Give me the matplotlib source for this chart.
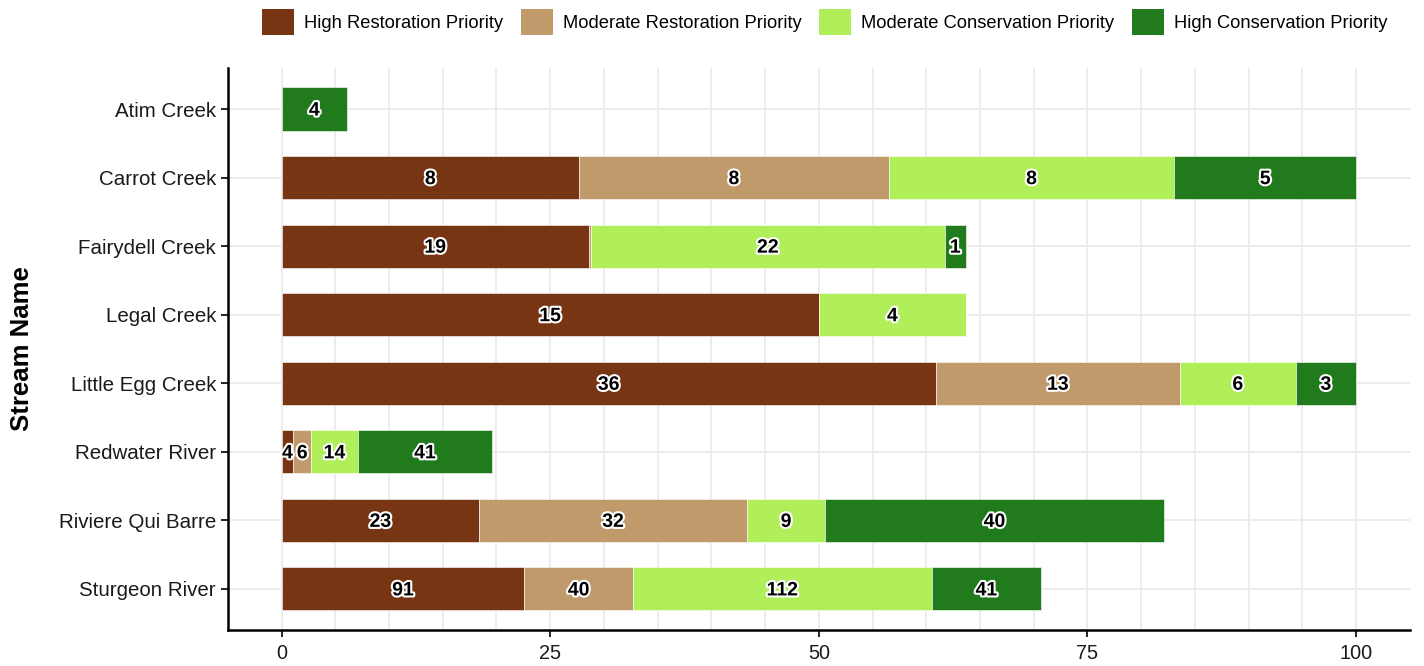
import numpy as np
import matplotlib.pyplot as plt
import matplotlib.patheffects as pe
from matplotlib.patches import Patch

plt.rcParams['font.family'] = ['Liberation Sans', 'DejaVu Sans']

streams = ['Atim Creek', 'Carrot Creek', 'Fairydell Creek', 'Legal Creek',
           'Little Egg Creek', 'Redwater River', 'Riviere Qui Barre', 'Sturgeon River']
priorities = ['High Restoration Priority', 'Moderate Restoration Priority',
              'Moderate Conservation Priority', 'High Conservation Priority']
colors = ['#783513', '#C19A6B', '#B0EF5A', '#217B1D']

# percent of stream length in each class (bar widths)
pct_high_rest = [0, 27.7, 28.6, 50.0, 60.9, 1.1, 18.4, 22.6]
pct_mod_rest = [0, 28.8, 0.2, 0, 22.7, 1.65, 24.9, 10.1]
pct_mod_cons = [0, 26.6, 32.9, 13.7, 10.8, 4.35, 7.3, 27.8]
pct_high_cons = [6.1, 16.9, 2.0, 0, 5.6, 12.5, 31.5, 10.2]

# number of sites in each class (bar labels)
n_high_rest = [None, 8, 19, 15, 36, 4, 23, 91]
n_mod_rest = [None, 8, None, None, 13, 6, 32, 40]
n_mod_cons = [None, 8, 22, 4, 6, 14, 9, 112]
n_high_cons = [4, 5, 1, None, 3, 41, 40, 41]

widths = [pct_high_rest, pct_mod_rest, pct_mod_cons, pct_high_cons]
counts = [n_high_rest, n_mod_rest, n_mod_cons, n_high_cons]

fig = plt.figure(figsize=(14.24, 6.66), dpi=100)
ax = fig.add_axes([0.160, 0.054, 0.830, 0.844])

y = np.arange(len(streams), 0, -1)
left = np.zeros(len(streams))
for w, n, c in zip(widths, counts, colors):
    w = np.array(w, dtype=float)
    ax.barh(y, w, left=left, height=0.63, color=c, edgecolor='white',
            linewidth=0.4, zorder=2)
    for yi, li, wi, ni in zip(y, left, w, n):
        if ni is not None and wi > 0:
            ax.text(li + wi / 2, yi, str(ni), ha='center', va='center_baseline',
                    fontsize=14, fontweight='bold', color='black', zorder=3,
                    path_effects=[pe.withStroke(linewidth=3, foreground='white')])
    left += w

ax.set_xlim(-5, 105)
ax.set_ylim(0.4, len(streams) + 0.6)
ax.set_xticks([0, 25, 50, 75, 100])
ax.set_xticks(np.arange(0, 101, 5), minor=True)
ax.set_yticks(y)
ax.set_yticklabels(streams)
ax.tick_params(axis='both', labelsize=14.8, colors='black', length=5, width=1.2,
               labelcolor='#1a1a1a')
ax.tick_params(axis='x', labelsize=14.3, pad=5)
ax.tick_params(axis='x', which='minor', length=0)
ax.grid(True, which='both', axis='x', color='#EBEBEB', linewidth=1.3, zorder=0)
ax.grid(True, which='major', axis='y', color='#EBEBEB', linewidth=1.3, zorder=0)
ax.set_axisbelow(True)
for s in ['top', 'right']:
    ax.spines[s].set_visible(False)
for s in ['left', 'bottom']:
    ax.spines[s].set_linewidth(1.8)
ax.set_ylabel('Stream Name', fontsize=18.5, fontweight='bold', labelpad=18)

handles = [Patch(facecolor=c, edgecolor='none') for c in colors]
ax.legend(handles, priorities, loc='lower center', bbox_to_anchor=(0.505, 1.03),
          ncol=4, frameon=False, fontsize=13.2, handlelength=1.75, handleheight=1.75,
          handletextpad=0.55, columnspacing=0.95)

fig.savefig('out.png', dpi=100)
